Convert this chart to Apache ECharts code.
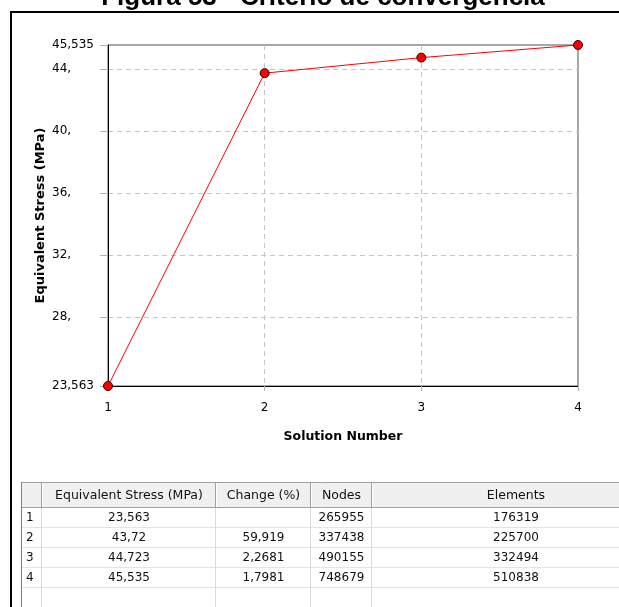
<!DOCTYPE html>
<html>
<head>
<meta charset="utf-8">
<script src="https://cdn.jsdelivr.net/npm/echarts@6/dist/echarts.min.js"></script>
<style>
  html, body { margin: 0; padding: 0; background: #ffffff; }
  #chart { width: 619px; height: 607px; }
</style>
</head>
<body>
<div id="chart"></div>
<script>
// Convergence study: peak equivalent stress per mesh refinement step
const solutionNumbers = [1, 2, 3, 4];
const equivalentStress = [23.563, 43.72, 44.723, 45.535];
const changePercent = [null, 59.919, 2.2681, 1.7981];
const nodes = [265955, 337438, 490155, 748679];
const elements = [176319, 225700, 332494, 510838];
const yTickValues = [23.563, 28, 32, 36, 40, 44, 45.535];
const tableHeaders = ['', 'Equivalent Stress (MPa)', 'Change (%)', 'Nodes', 'Elements'];
const titleText = 'Figura 53 - Critério de convergência';
const xAxisTitle = 'Solution Number';
const yAxisTitle = 'Equivalent Stress (MPa)';

// decimal comma formatting
const fmt = v => (v === null || v === undefined) ? '' : String(v).replace('.', ',');
const fmtTick = v => Number.isInteger(v) ? v + ',' : fmt(v);

const chart = echarts.init(document.getElementById('chart'), null, { renderer: 'canvas' });

// ---- results table drawn as graphic elements ----
const UI_FONT = '"DejaVu Sans", sans-serif';
const colX = [22, 42, 216, 311, 372, 660];
const headTop = 482, headBottom = 508, rowH = 20, tableBottom = 607;
const tableRows = solutionNumbers.map((n, i) => [
  String(n), fmt(equivalentStress[i]), fmt(changePercent[i]), String(nodes[i]), String(elements[i])
]);

const tableGraphics = [];
// header background
tableGraphics.push({ type: 'rect', silent: true, shape: { x: colX[0], y: headTop, width: 619 - colX[0], height: headBottom - headTop }, style: { fill: '#f0f0f0' } });
// header top and bottom edges
tableGraphics.push({ type: 'line', silent: true, shape: { x1: colX[0], y1: headTop + 0.5, x2: 619, y2: headTop + 0.5 }, style: { stroke: '#a0a0a0', lineWidth: 1 } });
tableGraphics.push({ type: 'line', silent: true, shape: { x1: colX[0], y1: headBottom - 0.5, x2: 619, y2: headBottom - 0.5 }, style: { stroke: '#a0a0a0', lineWidth: 1 } });
// body row separators
for (let k = 1; k <= tableRows.length + 1; k++) {
  const y = headBottom + k * rowH - 0.5;
  tableGraphics.push({ type: 'line', silent: true, shape: { x1: colX[0], y1: y, x2: 619, y2: y }, style: { stroke: '#e4e4e4', lineWidth: 1 } });
}
// column separators
for (let c = 1; c < colX.length - 1; c++) {
  const x = colX[c];
  tableGraphics.push({ type: 'line', silent: true, shape: { x1: x - 0.5, y1: headTop + 1, x2: x - 0.5, y2: headBottom - 1 }, style: { stroke: '#a0a0a0', lineWidth: 1 } });
  tableGraphics.push({ type: 'line', silent: true, shape: { x1: x + 0.5, y1: headTop + 1, x2: x + 0.5, y2: headBottom - 1 }, style: { stroke: '#ffffff', lineWidth: 1 } });
  tableGraphics.push({ type: 'line', silent: true, shape: { x1: x - 0.5, y1: headBottom, x2: x - 0.5, y2: tableBottom }, style: { stroke: '#dadada', lineWidth: 1 } });
}
// left table border
tableGraphics.push({ type: 'line', silent: true, shape: { x1: colX[0] - 0.5, y1: headTop, x2: colX[0] - 0.5, y2: tableBottom }, style: { stroke: '#808080', lineWidth: 1 } });
// header captions
tableHeaders.forEach((h, c) => {
  if (!h) return;
  tableGraphics.push({ type: 'text', silent: true, x: (colX[c] + Math.min(colX[c + 1], 660)) / 2, y: (headTop + headBottom) / 2 + 1,
    style: { text: h, font: '12.5px ' + UI_FONT, fill: '#111111', align: 'center', verticalAlign: 'middle' } });
});
// body cells
tableRows.forEach((row, r) => {
  const cy = headBottom + r * rowH + rowH / 2;
  row.forEach((val, c) => {
    if (!val) return;
    const left = c === 0;
    tableGraphics.push({ type: 'text', silent: true,
      x: left ? colX[0] + 4 : (colX[c] + colX[c + 1]) / 2,
      y: cy,
      style: { text: val, font: '12px ' + UI_FONT, fill: '#111111', align: left ? 'left' : 'center', verticalAlign: 'middle' } });
  });
});

// outer frame and figure caption
const frameGraphics = [
  { type: 'rect', silent: true, shape: { x: 11, y: 12, width: 800, height: 800 }, style: { fill: 'none', stroke: '#000000', lineWidth: 2 } },
  { type: 'text', silent: true, x: 323, y: 11, style: { text: titleText, font: 'bold 26px "Liberation Sans", Arial, sans-serif', fill: '#000000', align: 'center', verticalAlign: 'bottom' } }
];

const option = {
  animation: false,
  backgroundColor: '#ffffff',
  grid: { left: 108, right: 41, top: 45, bottom: 221, show: true, borderColor: '#505050', borderWidth: 1, backgroundColor: 'transparent' },
  xAxis: {
    type: 'value', min: 1, max: 4, interval: 1,
    name: xAxisTitle, nameLocation: 'middle', nameGap: 44, nameMoveOverlap: false,
    nameTextStyle: { fontFamily: UI_FONT, fontWeight: 'bold', fontSize: 12.5, color: '#000000' },
    axisLine: { show: true, lineStyle: { color: '#000000', width: 1 } },
    axisTick: { show: true, length: 5, lineStyle: { color: '#b0b0b0' } },
    axisLabel: { margin: 16, fontFamily: UI_FONT, fontSize: 12, color: '#000000', formatter: v => String(v) },
    splitLine: { show: true, showMinLine: false, showMaxLine: false, lineStyle: { color: '#c4c4c4', type: [5, 4], width: 1 } }
  },
  yAxis: {
    type: 'value', min: yTickValues[0], max: yTickValues[yTickValues.length - 1],
    name: yAxisTitle, nameLocation: 'middle', nameGap: 61, nameMoveOverlap: false,
    nameTextStyle: { fontFamily: UI_FONT, fontWeight: 'bold', fontSize: 13, color: '#000000' },
    axisLine: { show: true, lineStyle: { color: '#000000', width: 1 } },
    axisTick: { show: true, length: 8, customValues: yTickValues, lineStyle: { color: '#b0b0b0' } },
    axisLabel: { show: true, customValues: yTickValues, margin: 56, align: 'left', fontFamily: UI_FONT, fontSize: 12, color: '#000000', formatter: fmtTick },
    splitLine: { show: true, showMinLine: false, showMaxLine: false, lineStyle: { color: '#c4c4c4', type: [5, 4], width: 1 } }
  },
  series: [{
    type: 'line',
    data: solutionNumbers.map((x, i) => [x, equivalentStress[i]]),
    clip: false,
    z: 5,
    lineStyle: { color: '#ff0000', width: 1 },
    symbol: 'circle', symbolSize: 9,
    itemStyle: { color: '#ff0000', borderColor: '#2a0000', borderWidth: 1 }
  }],
  graphic: [...tableGraphics, ...frameGraphics]
};

chart.setOption(option);
</script>
</body>
</html>
